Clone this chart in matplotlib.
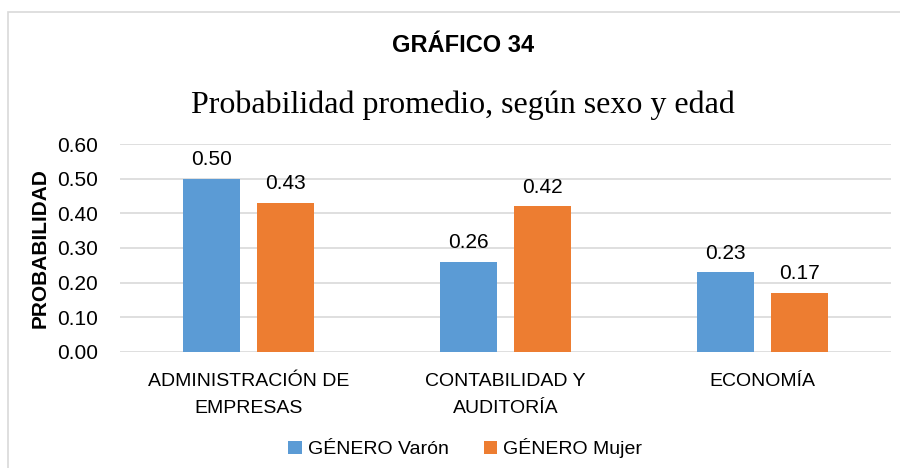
import matplotlib
matplotlib.use('Agg')
import matplotlib.pyplot as plt
import numpy as np
from matplotlib.patches import Rectangle

categories = ['ADMINISTRACIÓN DE\nEMPRESAS', 'CONTABILIDAD Y\nAUDITORÍA', 'ECONOMÍA']
varon = [0.50, 0.26, 0.23]
mujer = [0.43, 0.42, 0.17]
series_names = ['GÉNERO Varón', 'GÉNERO Mujer']
yticks = [0.0, 0.1, 0.2, 0.3, 0.4, 0.5, 0.6]

BLUE = '#5B9BD5'
ORANGE = '#ED7D31'
plt.rcParams['font.family'] = ['Liberation Sans', 'DejaVu Sans']

fig = plt.figure(figsize=(9, 4.68), dpi=100)
ax = fig.add_axes([0.1333, 0.2479, 0.8567, 0.4444])

x = np.arange(len(categories))
w = 0.225
off = 0.144
b1 = ax.bar(x - off, varon, w, color=BLUE, label=series_names[0], zorder=3)
b2 = ax.bar(x + off, mujer, w, color=ORANGE, label=series_names[1], zorder=3)
for bars, vals in ((b1, varon), (b2, mujer)):
    for r, v in zip(bars, vals):
        ax.annotate('{:.2f}'.format(v), (r.get_x() + r.get_width() / 2, v),
                    xytext=(0, 7), textcoords='offset points',
                    ha='center', va='bottom', fontsize=15)

ax.set_xlim(-0.5, 2.5)
ax.set_ylim(0, 0.6)
ax.set_yticks(yticks)
ax.set_yticklabels(['{:.2f}'.format(t) for t in yticks], fontsize=15)
ax.set_xticks(x)
ax.set_xticklabels(categories, fontsize=14, linespacing=1.8)
ax.tick_params(axis='x', length=0, pad=15)
ax.tick_params(axis='y', length=0, pad=16)
ax.grid(axis='y', color='#D9D9D9', linewidth=1.2, zorder=0)
for s in ax.spines.values():
    s.set_visible(False)
ax.set_ylabel('PROBABILIDAD', fontsize=15, fontweight='bold', labelpad=5)

fig.text(0.514, 0.903, 'GRÁFICO 34', ha='center', va='center',
         fontsize=17, fontweight='bold')
fig.text(0.514, 0.775, 'Probabilidad promedio, según sexo y edad',
         ha='center', va='center', fontsize=23, family='Liberation Serif')

fig.legend(loc='center', bbox_to_anchor=(0.517, 0.042), ncol=2, frameon=False,
           fontsize=14, handlelength=0.7, handleheight=0.7, handletextpad=0.3,
           columnspacing=1.8)

fig.patches.append(Rectangle((0.009, -0.1), 1.2, 0.1 + 1 - 12 / 468,
                             transform=fig.transFigure, fill=False,
                             edgecolor='#D9D9D9', linewidth=1.2))

fig.savefig('out.png', dpi=100)
